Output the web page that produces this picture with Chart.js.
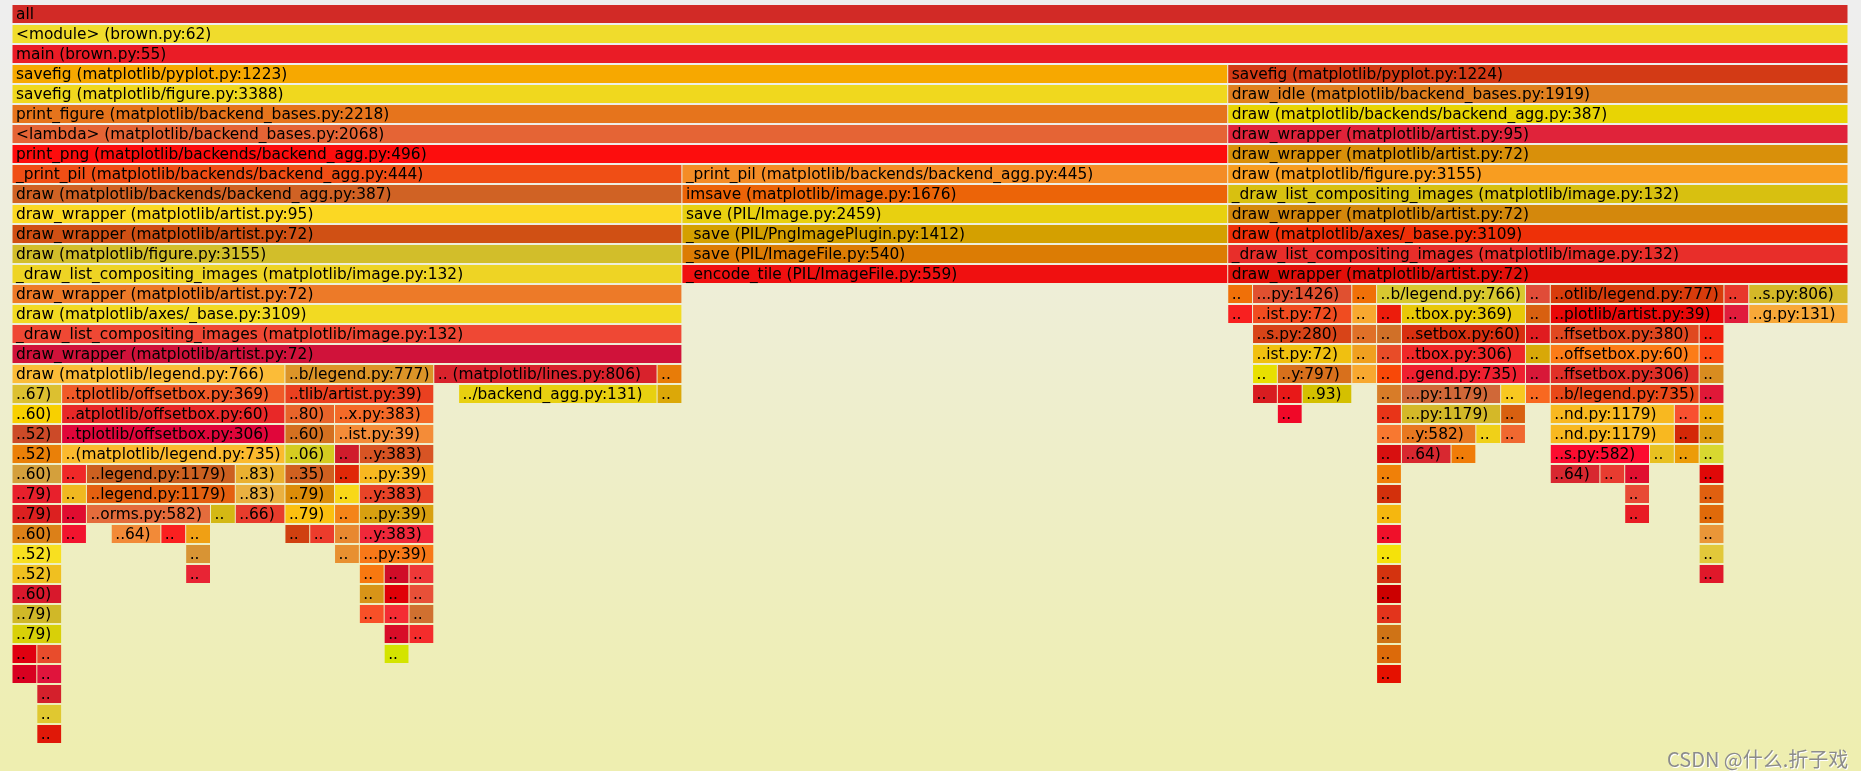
<!DOCTYPE html>
<html>
<head>
<meta charset="utf-8">
<script src="https://cdn.jsdelivr.net/npm/chart.js@4"></script>
<style>
  html, body { margin: 0; padding: 0; background: #ffffff; }
  #wrap { position: relative; width: 1861px; height: 781px; overflow: hidden; }
  #bg { position: absolute; left: 0; top: 0; width: 1861px; height: 771px;
        background: linear-gradient(to bottom, #eeeeee 2%, #eeeeb0 98%); }
  #flame { position: absolute; left: 0; top: 0; }
  #mark { position: absolute; left: 1667px; top: 744px; font: 20px "Noto Sans CJK SC", sans-serif;
          color: #8c8c8c; text-shadow: 1px 1px 0 #ffffff; white-space: nowrap; }
</style>
</head>
<body>
<div id="wrap">
  <div id="bg"></div>
  <canvas id="flame" width="1861" height="781"></canvas>
  <div id="mark">CSDN @什么.折子戏</div>
</div>
<script>
// total samples across the width
var totalSamples = 74;

// one line per stack depth (0 = root at the top)
var rowStarts = [
  [0],
  [0],
  [0],
  [0, 49],
  [0, 49],
  [0, 49],
  [0, 49],
  [0, 49],
  [0, 27, 49],
  [0, 27, 49],
  [0, 27, 49],
  [0, 27, 49],
  [0, 27, 49],
  [0, 27, 49],
  [0, 49, 50, 54, 55, 61, 62, 69, 70],
  [0, 49, 50, 54, 55, 56, 61, 62, 69, 70],
  [0, 50, 54, 55, 56, 61, 62, 68],
  [0, 50, 54, 55, 56, 61, 62, 68],
  [0, 11, 17, 26, 50, 51, 54, 55, 56, 61, 62, 68],
  [0, 2, 11, 18, 26, 50, 51, 52, 55, 56, 60, 61, 62, 68],
  [0, 2, 11, 13, 51, 55, 56, 60, 62, 67, 68],
  [0, 2, 11, 13, 55, 56, 59, 60, 62, 67, 68],
  [0, 2, 11, 13, 14, 55, 56, 58, 62, 66, 67, 68],
  [0, 2, 3, 9, 11, 13, 14, 55, 62, 64, 65, 68],
  [0, 2, 3, 9, 11, 13, 14, 55, 65, 68],
  [0, 2, 3, 8, 9, 11, 13, 14, 55, 65, 68],
  [0, 2, 4, 6, 7, 11, 12, 13, 14, 55, 68],
  [0, 7, 13, 14, 55, 68],
  [0, 7, 14, 15, 16, 55, 68],
  [0, 14, 15, 16, 55],
  [0, 14, 15, 16, 55],
  [0, 15, 16, 55],
  [0, 1, 15, 55],
  [0, 1, 55],
  [1],
  [1],
  [1]
];

var rowSamples = [
  [74],
  [74],
  [74],
  [49, 25],
  [49, 25],
  [49, 25],
  [49, 25],
  [49, 25],
  [27, 22, 25],
  [27, 22, 25],
  [27, 22, 25],
  [27, 22, 25],
  [27, 22, 25],
  [27, 22, 25],
  [27, 1, 4, 1, 6, 1, 7, 1, 4],
  [27, 1, 4, 1, 1, 5, 1, 7, 1, 4],
  [27, 4, 1, 1, 5, 1, 6, 1],
  [27, 4, 1, 1, 5, 1, 6, 1],
  [11, 6, 9, 1, 1, 3, 1, 1, 5, 1, 6, 1],
  [2, 9, 6, 8, 1, 1, 1, 2, 1, 4, 1, 1, 6, 1],
  [2, 9, 2, 4, 1, 1, 4, 1, 5, 1, 1],
  [2, 9, 2, 4, 1, 3, 1, 1, 5, 1, 1],
  [2, 9, 2, 1, 3, 1, 2, 1, 4, 1, 1, 1],
  [2, 1, 6, 2, 2, 1, 3, 1, 2, 1, 1, 1],
  [2, 1, 6, 2, 2, 1, 3, 1, 1, 1],
  [2, 1, 5, 1, 2, 2, 1, 3, 1, 1, 1],
  [2, 1, 2, 1, 1, 1, 1, 1, 3, 1, 1],
  [2, 1, 1, 3, 1, 1],
  [2, 1, 1, 1, 1, 1, 1],
  [2, 1, 1, 1, 1],
  [2, 1, 1, 1, 1],
  [2, 1, 1, 1],
  [1, 1, 1, 1],
  [1, 1, 1],
  [1],
  [1],
  [1]
];

var rowNames = [
  ['all'],
  ['<module> (brown.py:62)'],
  ['main (brown.py:55)'],
  ['savefig (matplotlib/pyplot.py:1223)', 'savefig (matplotlib/pyplot.py:1224)'],
  ['savefig (matplotlib/figure.py:3388)', 'draw_idle (matplotlib/backend_bases.py:1919)'],
  ['print_figure (matplotlib/backend_bases.py:2218)', 'draw (matplotlib/backends/backend_agg.py:387)'],
  ['<lambda> (matplotlib/backend_bases.py:2068)', 'draw_wrapper (matplotlib/artist.py:95)'],
  ['print_png (matplotlib/backends/backend_agg.py:496)', 'draw_wrapper (matplotlib/artist.py:72)'],
  ['_print_pil (matplotlib/backends/backend_agg.py:444)', '_print_pil (matplotlib/backends/backend_agg.py:445)', 'draw (matplotlib/figure.py:3155)'],
  ['draw (matplotlib/backends/backend_agg.py:387)', 'imsave (matplotlib/image.py:1676)', '_draw_list_compositing_images (matplotlib/image.py:132)'],
  ['draw_wrapper (matplotlib/artist.py:95)', 'save (PIL/Image.py:2459)', 'draw_wrapper (matplotlib/artist.py:72)'],
  ['draw_wrapper (matplotlib/artist.py:72)', '_save (PIL/PngImagePlugin.py:1412)', 'draw (matplotlib/axes/_base.py:3109)'],
  ['draw (matplotlib/figure.py:3155)', '_save (PIL/ImageFile.py:540)', '_draw_list_compositing_images (matplotlib/image.py:132)'],
  ['_draw_list_compositing_images (matplotlib/image.py:132)', '_encode_tile (PIL/ImageFile.py:559)', 'draw_wrapper (matplotlib/artist.py:72)'],
  ['draw_wrapper (matplotlib/artist.py:72)', '..', '...py:1426)', '..', '..b/legend.py:766)', '..', '..otlib/legend.py:777)', '..', '..s.py:806)'],
  ['draw (matplotlib/axes/_base.py:3109)', '..', '..ist.py:72)', '..', '..', '..tbox.py:369)', '..', '..plotlib/artist.py:39)', '..', '..g.py:131)'],
  ['_draw_list_compositing_images (matplotlib/image.py:132)', '..s.py:280)', '..', '..', '..setbox.py:60)', '..', '..ffsetbox.py:380)', '..'],
  ['draw_wrapper (matplotlib/artist.py:72)', '..ist.py:72)', '..', '..', '..tbox.py:306)', '..', '..offsetbox.py:60)', '..'],
  ['draw (matplotlib/legend.py:766)', '..b/legend.py:777)', '.. (matplotlib/lines.py:806)', '..', '..', '..y:797)', '..', '..', '..gend.py:735)', '..', '..ffsetbox.py:306)', '..'],
  ['..67)', '..tplotlib/offsetbox.py:369)', '..tlib/artist.py:39)', '../backend_agg.py:131)', '..', '..', '..', '..93)', '..', '...py:1179)', '..', '..', '..b/legend.py:735)', '..'],
  ['..60)', '..atplotlib/offsetbox.py:60)', '..80)', '..x.py:383)', '..', '..', '...py:1179)', '..', '..nd.py:1179)', '..', '..'],
  ['..52)', '..tplotlib/offsetbox.py:306)', '..60)', '..ist.py:39)', '..', '..y:582)', '..', '..', '..nd.py:1179)', '..', '..'],
  ['..52)', '..(matplotlib/legend.py:735)', '..06)', '..', '..y:383)', '..', '..64)', '..', '..s.py:582)', '..', '..', '..'],
  ['..60)', '..', '..legend.py:1179)', '..83)', '..35)', '..', '...py:39)', '..', '..64)', '..', '..', '..'],
  ['..79)', '..', '..legend.py:1179)', '..83)', '..79)', '..', '..y:383)', '..', '..', '..'],
  ['..79)', '..', '..orms.py:582)', '..', '..66)', '..79)', '..', '...py:39)', '..', '..', '..'],
  ['..60)', '..', '..64)', '..', '..', '..', '..', '..', '..y:383)', '..', '..'],
  ['..52)', '..', '..', '...py:39)', '..', '..'],
  ['..52)', '..', '..', '..', '..', '..', '..'],
  ['..60)', '..', '..', '..', '..'],
  ['..79)', '..', '..', '..', '..'],
  ['..79)', '..', '..', '..'],
  ['..', '..', '..', '..'],
  ['..', '..', '..'],
  ['..'],
  ['..'],
  ['..']
];

// fill colour of each frame (same layout as above)
var rowColors = [
  ['#d22a26'],
  ['#f0dc2c'],
  ['#ea1c26'],
  ['#f7a800', '#d33a15'],
  ['#f0d81e', '#df7f1f'],
  ['#e6741c', '#e8d404'],
  ['#e56435', '#e0233a'],
  ['#fd0d0d', '#d9900a'],
  ['#f04e15', '#f48c26', '#f89d20'],
  ['#d06224', '#ec6408', '#d8c010'],
  ['#fbd823', '#e8d010', '#d4880c'],
  ['#d05014', '#d4a000', '#ee3008'],
  ['#d2be2a', '#dc7c04', '#e82e2a'],
  ['#eed424', '#f01010', '#e2100a'],
  ['#ed7a28', '#f07008', '#e05030', '#f07008', '#d8c830', '#e04c38', '#d83c0c', '#e8382c', '#d4b828'],
  ['#f2da22', '#f82020', '#f04c20', '#f8a830', '#ec1c0c', '#e8c808', '#d86010', '#e80808', '#e01c3c', '#f8a838'],
  ['#ef4834', '#d84418', '#e07028', '#d07028', '#d83010', '#e01c20', '#e04820', '#f02010'],
  ['#d0123a', '#f0c010', '#f0a020', '#e84c28', '#f02828', '#d8a808', '#fc7c18', '#fc4c14'],
  ['#fbbc38', '#dc9428', '#d8222c', '#e87c08', '#e8e000', '#d8701c', '#f8a830', '#f84808', '#f02030', '#d81838', '#e03028', '#d88c20'],
  ['#dcc030', '#f05a28', '#ea4020', '#e8d010', '#dca808', '#d81c20', '#e81818', '#d4c000', '#d87c28', '#d06838', '#f8c820', '#f86820', '#e84818', '#e01838'],
  ['#f8d000', '#e82828', '#e8642a', '#f46a28', '#f00828', '#e83418', '#d4b828', '#d86010', '#f8b820', '#f85030', '#eca808'],
  ['#cc4a28', '#e0063a', '#d47020', '#f48c38', '#f87830', '#e87820', '#f0d018', '#f06830', '#f8b820', '#d42808', '#dc9c10'],
  ['#ea8008', '#fbba2e', '#d4cc20', '#d01c2c', '#d85424', '#d81010', '#d82830', '#f07c08', '#fc0c30', '#e8c020', '#ec9c08', '#d8d830'],
  ['#d4a03c', '#f02828', '#cc6020', '#eab030', '#d06020', '#e02808', '#f8b820', '#f08008', '#d82830', '#e83c30', '#e01030', '#e00808'],
  ['#e8202c', '#f0b820', '#e46010', '#eab040', '#dc8c08', '#f8d818', '#e84428', '#d3300c', '#e84a35', '#e06010'],
  ['#dc2020', '#e00c30', '#e46c3c', '#d4b814', '#e83c2c', '#fbc010', '#f48418', '#d8a010', '#f5b70f', '#e81c24', '#e06a0a'],
  ['#dc8018', '#f2142e', '#f28a38', '#fa2020', '#f0a014', '#d04010', '#ec3c2c', '#e88830', '#f0283a', '#f0102a', '#ea9638'],
  ['#f8e020', '#d89434', '#e89030', '#f87818', '#f5e20a', '#e2c83a'],
  ['#f0c020', '#e82434', '#f87810', '#d00c28', '#ee3838', '#d4330f', '#e0182a'],
  ['#d8182c', '#d89418', '#e00008', '#e85038', '#cc0000'],
  ['#d0b828', '#f85028', '#f42c34', '#d07030', '#e3341c'],
  ['#d8d008', '#d80c28', '#f42c2c', '#cf7316'],
  ['#e00010', '#e84c2c', '#d4e400', '#dc6a0a'],
  ['#d80020', '#e0143c', '#e51100'],
  ['#d4202c'],
  ['#e0c830'],
  ['#e01808']
];

// flatten rows into one floating-bar dataset
var depthLabels = rowStarts.map(function (r, i) { return String(i); });
var points = [], names = [], colors = [];
rowStarts.forEach(function (starts, depth) {
  starts.forEach(function (s, j) {
    points.push({ y: String(depth), x: [s, s + rowSamples[depth][j]] });
    names.push(rowNames[depth][j]);
    colors.push(rowColors[depth][j]);
  });
});

var frameLabels = {
  id: 'frameLabels',
  afterDatasetsDraw: function (chart) {
    var c = chart.ctx;
    var meta = chart.getDatasetMeta(0);
    c.save();
    c.font = '15.4px "DejaVu Sans", Verdana, sans-serif';
    c.fillStyle = '#000000';
    c.textBaseline = 'alphabetic';
    meta.data.forEach(function (bar, i) {
      var p = bar.getProps(['x', 'y', 'base', 'height'], true);
      var left = Math.min(p.x, p.base);
      var w = Math.abs(p.x - p.base);
      c.save();
      c.beginPath();
      c.rect(left, p.y - p.height / 2, w - 1, p.height);
      c.clip();
      c.fillText(names[i], left + 4, p.y + 4.8);
      c.restore();
    });
    c.restore();
  }
};

var ctx = document.getElementById('flame').getContext('2d');
var chart = new Chart(ctx, {
  type: 'bar',
  data: {
    labels: depthLabels,
    datasets: [{
      data: points,
      backgroundColor: colors,
      borderWidth: 0,
      barThickness: 19,
      inflateAmount: -0.5
    }]
  },
  options: {
    indexAxis: 'y',
    responsive: false,
    animation: false,
    layout: { padding: { left: 12, right: 13, top: 4, bottom: 37 } },
    scales: {
      x: { type: 'linear', min: 0, max: totalSamples, display: false },
      y: { type: 'category', offset: true, display: false }
    },
    plugins: {
      legend: { display: false },
      tooltip: { enabled: false }
    }
  },
  plugins: [frameLabels]
});
</script>
</body>
</html>
